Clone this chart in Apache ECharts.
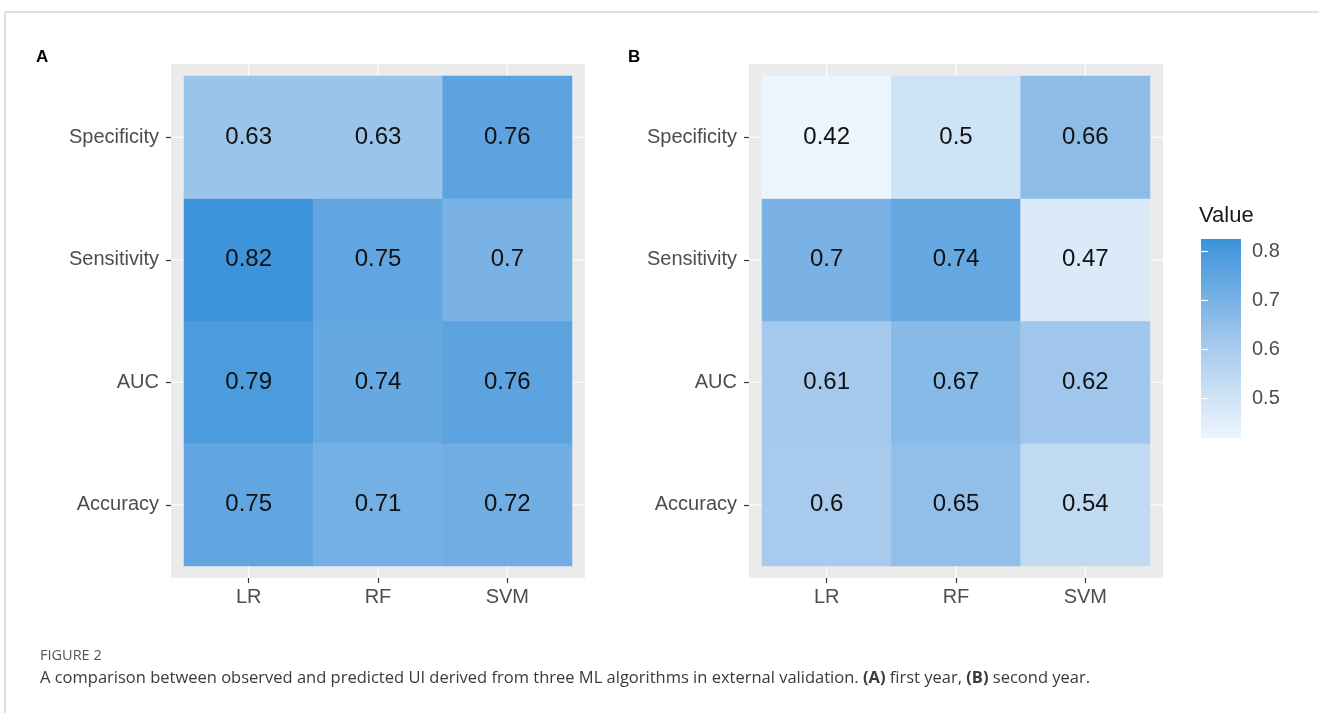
<!DOCTYPE html>
<html>
<head>
<meta charset="utf-8">
<script src="https://cdn.jsdelivr.net/npm/echarts@6/dist/echarts.min.js"></script>
<style>
  html, body { margin: 0; padding: 0; background: #ffffff; }
  #chart { width: 1319px; height: 713px; }
</style>
</head>
<body>
<div id="chart"></div>
<script>
// Metrics (rows, bottom to top) and algorithms (columns)
const metrics = ['Accuracy', 'AUC', 'Sensitivity', 'Specificity'];
const models = ['LR', 'RF', 'SVM'];

// First year, one array per algorithm in metric order
const firstYearLR  = [0.75, 0.79, 0.82, 0.63];
const firstYearRF  = [0.71, 0.74, 0.75, 0.63];
const firstYearSVM = [0.72, 0.76, 0.70, 0.76];

// Second year
const secondYearLR  = [0.60, 0.61, 0.70, 0.42];
const secondYearRF  = [0.65, 0.67, 0.74, 0.50];
const secondYearSVM = [0.54, 0.62, 0.47, 0.66];

// Colour scale shared by both panels
const scaleMin = 0.418;
const scaleMax = 0.826;
const legendTicks = [0.5, 0.6, 0.7, 0.8];
const rampColors = ['#ecf5fd', '#c8dff4', '#9fc6eb', '#6eace3', '#3a93da'];

function cells(cols) {
  const out = [];
  cols.forEach((col, xi) => col.forEach((v, yi) => out.push([xi, yi, v])));
  return out;
}

const FONT = "'Liberation Sans', Arial, sans-serif";
const PADX = 13;                      // panel expansion around the tiles
const PADY = 12;
const panels = [
  { left: 184, top: 76, width: 388, height: 490 },
  { left: 762, top: 76, width: 388, height: 490 }
];
const legendBox = { left: 1201, top: 239, width: 40, height: 199 };

const chart = echarts.init(document.getElementById('chart'));

// grey panel backgrounds with white major grid lines at category centres
const graphics = [];
panels.forEach(p => {
  graphics.push({
    type: 'rect', z: -10,
    shape: { x: p.left - PADX, y: p.top - PADY, width: p.width + 2 * PADX, height: p.height + 2 * PADY },
    style: { fill: '#ebebeb' }
  });
  const cw = p.width / models.length, rh = p.height / metrics.length;
  models.forEach((m, i) => graphics.push({
    type: 'line', z: -9,
    shape: { x1: p.left + cw * (i + 0.5), y1: p.top - PADY, x2: p.left + cw * (i + 0.5), y2: p.top + p.height + PADY },
    style: { stroke: '#ffffff', lineWidth: 1.2 }
  }));
  metrics.forEach((m, j) => graphics.push({
    type: 'line', z: -9,
    shape: { x1: p.left - PADX, y1: p.top + rh * (j + 0.5), x2: p.left + p.width + PADX, y2: p.top + rh * (j + 0.5) },
    style: { stroke: '#ffffff', lineWidth: 1.2 }
  }));
});
// frame of the figure
graphics.push({ type: 'line', shape: { x1: 5, y1: 12, x2: 1319, y2: 12 }, style: { stroke: '#d6d6d6', lineWidth: 1.5 } });
graphics.push({ type: 'line', shape: { x1: 5, y1: 12, x2: 5, y2: 713 }, style: { stroke: '#d6d6d6', lineWidth: 1.5 } });
// panel tags, legend title, caption
graphics.push({ type: 'text', left: 36, top: 49, style: { text: 'A', font: "bold 17px " + FONT, fill: '#000' } });
graphics.push({ type: 'text', left: 628, top: 49, style: { text: 'B', font: "bold 17px " + FONT, fill: '#000' } });
graphics.push({ type: 'text', left: 1199, top: 205, style: { text: 'Value', font: "22px " + FONT, fill: '#1a1a1a' } });
graphics.push({ type: 'text', left: 40, top: 648, style: { text: 'FIGURE 2', font: "14.5px 'Open Sans', sans-serif", fill: '#555555' } });
graphics.push({
  type: 'text', left: 40, top: 670,
  style: {
    text: 'A comparison between observed and predicted UI derived from three ML algorithms in external validation. {b|(A)} first year, {b|(B)} second year.',
    font: "16.5px 'Open Sans', sans-serif", fill: '#3a3a3a',
    rich: { b: { fontWeight: 'bold', fontSize: 16.5, fontFamily: "'Open Sans', sans-serif", fill: '#3a3a3a' } }
  }
});

const grids = panels.map(p => ({ left: p.left, top: p.top, width: p.width, height: p.height }));
grids.push({
  left: legendBox.left, top: legendBox.top, width: legendBox.width, height: legendBox.height,
  show: true, borderWidth: 0,
  backgroundColor: new echarts.graphic.LinearGradient(0, 1, 0, 0,
    rampColors.map((c, i) => ({ offset: i / (rampColors.length - 1), color: c })))
});

const catX = (gi) => ({
  type: 'category', gridIndex: gi, data: models, offset: PADY,
  axisLine: { show: false },
  axisTick: { show: true, alignWithLabel: true, length: 5, lineStyle: { color: '#333333', width: 1.2 } },
  axisLabel: { color: '#4d4d4d', fontSize: 20, fontFamily: FONT, margin: 9 },
  splitLine: { show: false }
});
const catY = (gi) => ({
  type: 'category', gridIndex: gi, data: metrics, offset: PADX,
  axisLine: { show: false },
  axisTick: { show: true, alignWithLabel: true, length: 5, lineStyle: { color: '#333333', width: 1.2 } },
  axisLabel: { color: '#4d4d4d', fontSize: 20, fontFamily: FONT, margin: 12 },
  splitLine: { show: false }
});

const valueLabel = { show: true, formatter: p => String(p.value[2]), color: '#111111', fontSize: 24, fontFamily: FONT };

const option = {
  animation: false,
  backgroundColor: '#ffffff',
  graphic: graphics,
  grid: grids,
  xAxis: [catX(0), catX(1), { type: 'value', gridIndex: 2, show: false, min: 0, max: 1 }],
  yAxis: [
    catY(0), catY(1),
    {
      type: 'value', gridIndex: 2, position: 'right', min: scaleMin, max: scaleMax,
      axisLine: { show: false },
      axisTick: { show: true, inside: true, length: 7, customValues: legendTicks, lineStyle: { color: '#ffffff', width: 1.2 } },
      axisLabel: { show: true, customValues: legendTicks, margin: 11, color: '#4d4d4d', fontSize: 20, fontFamily: FONT, formatter: v => String(v) },
      splitLine: { show: false }
    },
    {
      type: 'value', gridIndex: 2, position: 'left', min: scaleMin, max: scaleMax,
      axisLine: { show: false },
      axisTick: { show: true, inside: true, length: 7, customValues: legendTicks, lineStyle: { color: '#ffffff', width: 1.2 } },
      axisLabel: { show: false },
      splitLine: { show: false }
    }
  ],
  visualMap: {
    type: 'continuous', show: false, min: scaleMin, max: scaleMax,
    seriesIndex: [0, 1], dimension: 2,
    inRange: { color: rampColors }
  },
  series: [
    {
      name: 'first year', type: 'heatmap', xAxisIndex: 0, yAxisIndex: 0,
      data: cells([firstYearLR, firstYearRF, firstYearSVM]),
      label: valueLabel,
      itemStyle: { borderWidth: 0 },
      emphasis: { disabled: true }
    },
    {
      name: 'second year', type: 'heatmap', xAxisIndex: 1, yAxisIndex: 1,
      data: cells([secondYearLR, secondYearRF, secondYearSVM]),
      label: valueLabel,
      itemStyle: { borderWidth: 0 },
      emphasis: { disabled: true }
    }
  ]
};

chart.setOption(option);
</script>
</body>
</html>
